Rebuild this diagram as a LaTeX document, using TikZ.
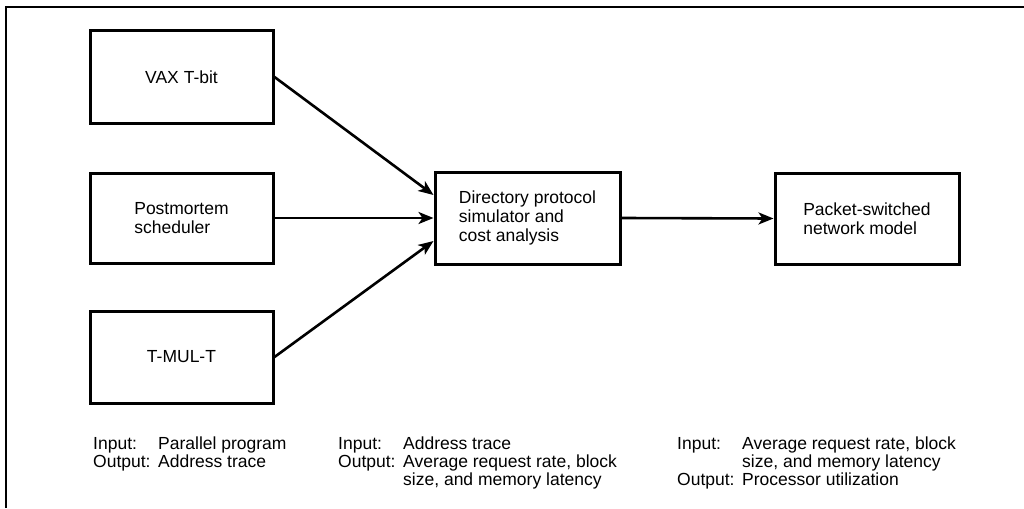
\documentclass[tikz,border=0pt]{standalone}
\usepackage{fontspec}
\setmainfont{Liberation Sans}
\usetikzlibrary{arrows.meta}
\begin{document}
\begin{tikzpicture}[x=1pt,y=-1pt,
  box/.style={draw=black,line width=3pt,fill=white,inner sep=0pt,align=left,
    font=\fontsize{17.5}{19}\selectfont},
  arr/.style={line width=2.6pt,-{Stealth[length=15pt,width=12pt,inset=4pt]}},
  lbl/.style={anchor=base west,inner sep=0pt,font=\fontsize{17.5}{18}\selectfont},
  frame/.style={line width=2.6pt}]
\useasboundingbox (0,0) rectangle (1024,508);
% frame (left and top edges)
\coordinate (fbl) at (6,508);
\coordinate (ftl) at (6,7);
\coordinate (ftr) at (1024,7);
\draw[frame] (fbl) -- (ftl) -- (ftr);
% boxes
\node[box,minimum width=183pt,minimum height=92pt] (vax) at (181.5,77) {VAX T-bit};
\node[box,minimum width=183pt,minimum height=90pt] (post) at (181.5,218) {Postmortem\\scheduler};
\node[box,minimum width=183pt,minimum height=92pt] (tmul) at (181.5,357) {T-MUL-T};
\node[box,minimum width=185pt,minimum height=92pt] (dir) at (527.5,218) {Directory protocol\\simulator and\\cost analysis};
\node[box,minimum width=184pt,minimum height=91pt] (pkt) at (867,218.5) {Packet-switched\\network model};
% connectors
\draw[arr] (vax.east) -- ([yshift=23pt]dir.west);
\draw[arr] (post.east) -- (dir.west);
\draw[arr] (tmul.east) -- ([yshift=-23pt]dir.west);
\draw[arr] (dir.east) -- (pkt.west);
% bottom notes, column 1
\node[lbl] (i1) at (93,449) {Input:};
\node[lbl] (i1v) at (158,449) {Parallel program};
\node[lbl] (o1) at (93,467) {Output:};
\node[lbl] (o1v) at (158,467) {Address trace};
% column 2
\node[lbl] (i2) at (338,449) {Input:};
\node[lbl] (i2v) at (403,449) {Address trace};
\node[lbl] (o2) at (338,467) {Output:};
\node[lbl] (o2v) at (403,467) {Average request rate, block};
\node[lbl] (o2w) at (403,485) {size, and memory latency};
% column 3
\node[lbl] (i3) at (677,449) {Input:};
\node[lbl] (i3v) at (742,449) {Average request rate, block};
\node[lbl] (i3w) at (742,467) {size, and memory latency};
\node[lbl] (o3) at (677,485) {Output:};
\node[lbl] (o3v) at (742,485) {Processor utilization};
\end{tikzpicture}
\end{document}
